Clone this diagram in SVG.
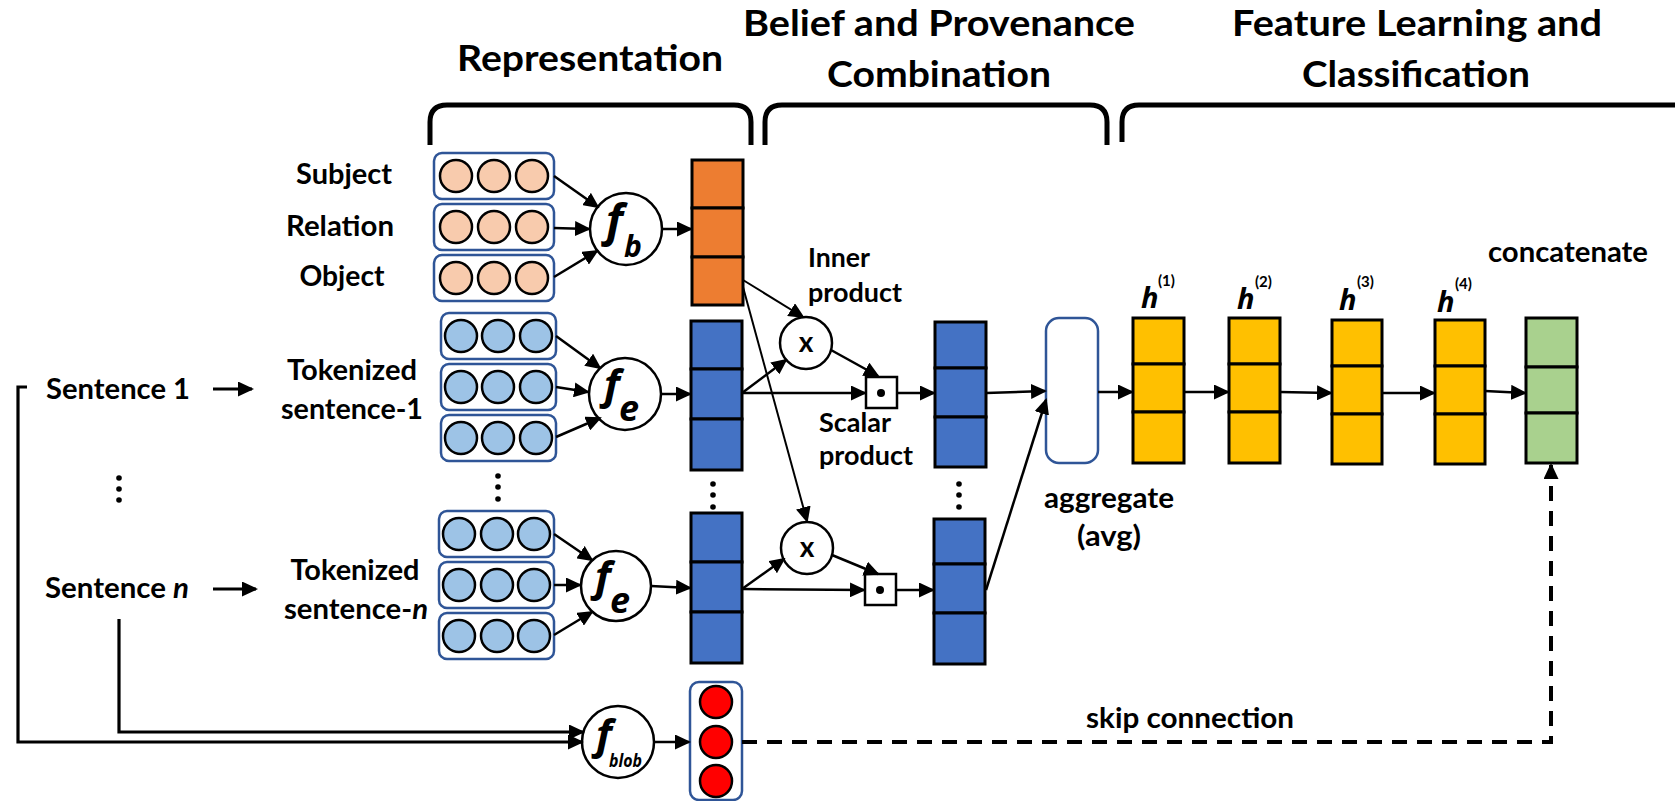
<svg xmlns="http://www.w3.org/2000/svg" width="1675" height="801" viewBox="0 0 1675 801">
  <style>
    text { font-family: Lato, "Noto Sans", "DejaVu Sans", sans-serif; font-weight: bold; fill: #000; }
    .title { font-size: 36px; text-anchor: middle; }
    .lbl { font-size: 29px; }
    .small { font-size: 26px; }
    .mid { text-anchor: middle; }
    .fn { font-family: "Noto Sans", "DejaVu Sans", sans-serif; font-style: italic; font-weight: bold; }
    .brace { fill: none; stroke: #000; stroke-width: 5; }
    .vecbox { fill: #fff; stroke: #2F5597; stroke-width: 2.5; }
    .peach { fill: #F8CBAD; stroke: #000; stroke-width: 2.5; }
    .lblue { fill: #9DC3E6; stroke: #000; stroke-width: 2.5; }
    .red { fill: #FF0000; stroke: #000; stroke-width: 2.5; }
    .op { fill: #fff; stroke: #000; stroke-width: 2.5; }
    .cell { stroke: #000; stroke-width: 3; }
    .orange { fill: #ED7D31; }
    .blue { fill: #4472C4; }
    .yellow { fill: #FFC000; }
    .green { fill: #A9D18E; }
    .agg { fill: #fff; stroke: #2F5597; stroke-width: 2.5; }
    .dot { fill: #000; }
    .edge { fill: none; stroke: #000; stroke-width: 2.5; marker-end: url(#arrow); }
    .thin { stroke-width: 2; }
    .thick { stroke-width: 3.2; }
    .dash { fill: none; stroke: #000; stroke-width: 4; stroke-dasharray: 15 10; marker-end: url(#arrow); }
  </style>
  <defs>
    <marker id="arrow" markerUnits="userSpaceOnUse" markerWidth="16" markerHeight="15" refX="14" refY="7.5" orient="auto">
      <path d="M0,0 L16,7.5 L0,15 Z" fill="#000"/>
    </marker>
  </defs>

  <rect width="1675" height="801" fill="#fff"/>

  <!-- section headings and braces -->
  <g id="headings">
    <text class="title" x="590" y="71" textLength="266" lengthAdjust="spacingAndGlyphs">Representation</text>
    <text class="title" x="939" y="36" textLength="392" lengthAdjust="spacingAndGlyphs">Belief and Provenance</text>
    <text class="title" x="939" y="87" textLength="224" lengthAdjust="spacingAndGlyphs">Combination</text>
    <text class="title" x="1417" y="36" textLength="370" lengthAdjust="spacingAndGlyphs">Feature Learning and</text>
    <text class="title" x="1416" y="87" textLength="228" lengthAdjust="spacingAndGlyphs">Classification</text>
    <path class="brace" d="M430,145 V122 Q430,105 447,105 H734 Q751,105 751,122 V145"/>
    <path class="brace" d="M765,145 V122 Q765,105 782,105 H1090 Q1107,105 1107,122 V145"/>
    <path class="brace" d="M1122,142 V122 Q1122,105 1139,105 H1675"/>
  </g>

  <!-- input labels -->
  <g id="input-labels">
    <text class="lbl mid" x="344" y="184" textLength="96" lengthAdjust="spacingAndGlyphs">Subject</text>
    <text class="lbl mid" x="340" y="236" textLength="108" lengthAdjust="spacingAndGlyphs">Relation</text>
    <text class="lbl mid" x="342" y="286" textLength="85" lengthAdjust="spacingAndGlyphs">Object</text>
    <text class="lbl" x="46" y="399" textLength="144" lengthAdjust="spacingAndGlyphs">Sentence 1</text>
    <text class="lbl" x="45" y="598" textLength="144" lengthAdjust="spacingAndGlyphs">Sentence <tspan font-style="italic">n</tspan></text>
    <text class="lbl mid" x="352" y="380" textLength="130" lengthAdjust="spacingAndGlyphs">Tokenized</text>
    <text class="lbl mid" x="352" y="419" textLength="142" lengthAdjust="spacingAndGlyphs">sentence-1</text>
    <text class="lbl mid" x="355" y="580" textLength="129" lengthAdjust="spacingAndGlyphs">Tokenized</text>
    <text class="lbl mid" x="356" y="619" textLength="144" lengthAdjust="spacingAndGlyphs">sentence-<tspan font-style="italic">n</tspan></text>
    <circle class="dot" cx="119" cy="478" r="2.8"/>
    <circle class="dot" cx="119" cy="489" r="2.8"/>
    <circle class="dot" cx="119" cy="500" r="2.8"/>
  </g>

  <!-- belief triple embeddings -->
  <g id="triple-vectors">
    <rect class="vecbox" x="434" y="153" width="120" height="46" rx="8"/>
    <rect class="vecbox" x="434" y="204" width="120" height="46" rx="8"/>
    <rect class="vecbox" x="434" y="255" width="120" height="46" rx="8"/>
    <circle class="peach" cx="456" cy="176" r="16"/>
    <circle class="peach" cx="494" cy="176" r="16"/>
    <circle class="peach" cx="532" cy="176" r="16"/>
    <circle class="peach" cx="456" cy="227" r="16"/>
    <circle class="peach" cx="494" cy="227" r="16"/>
    <circle class="peach" cx="532" cy="227" r="16"/>
    <circle class="peach" cx="456" cy="278" r="16"/>
    <circle class="peach" cx="494" cy="278" r="16"/>
    <circle class="peach" cx="532" cy="278" r="16"/>
  </g>

  <!-- token embeddings, sentence 1 -->
  <g id="tokens-1">
    <rect class="vecbox" x="441" y="313" width="115" height="46" rx="8"/>
    <rect class="vecbox" x="441" y="364" width="115" height="46" rx="8"/>
    <rect class="vecbox" x="441" y="415" width="115" height="46" rx="8"/>
    <circle class="lblue" cx="461" cy="336" r="16"/>
    <circle class="lblue" cx="498" cy="336" r="16"/>
    <circle class="lblue" cx="536" cy="336" r="16"/>
    <circle class="lblue" cx="461" cy="387" r="16"/>
    <circle class="lblue" cx="498" cy="387" r="16"/>
    <circle class="lblue" cx="536" cy="387" r="16"/>
    <circle class="lblue" cx="461" cy="438" r="16"/>
    <circle class="lblue" cx="498" cy="438" r="16"/>
    <circle class="lblue" cx="536" cy="438" r="16"/>
  </g>

  <g id="tokens-dots">
    <circle class="dot" cx="498" cy="476" r="2.8"/>
    <circle class="dot" cx="498" cy="487" r="2.8"/>
    <circle class="dot" cx="498" cy="499" r="2.8"/>
  </g>

  <!-- token embeddings, sentence n -->
  <g id="tokens-n">
    <rect class="vecbox" x="439" y="511" width="115" height="46" rx="8"/>
    <rect class="vecbox" x="439" y="562" width="115" height="46" rx="8"/>
    <rect class="vecbox" x="439" y="613" width="115" height="46" rx="8"/>
    <circle class="lblue" cx="459" cy="534" r="16"/>
    <circle class="lblue" cx="497" cy="534" r="16"/>
    <circle class="lblue" cx="534" cy="534" r="16"/>
    <circle class="lblue" cx="459" cy="585" r="16"/>
    <circle class="lblue" cx="497" cy="585" r="16"/>
    <circle class="lblue" cx="534" cy="585" r="16"/>
    <circle class="lblue" cx="459" cy="636" r="16"/>
    <circle class="lblue" cx="497" cy="636" r="16"/>
    <circle class="lblue" cx="534" cy="636" r="16"/>
  </g>

  <!-- encoders -->
  <g id="f-b">
    <circle class="op" cx="626" cy="229" r="36"/>
    <text class="fn" x="606" y="236" font-size="45">f</text>
    <text class="fn" x="624" y="257" font-size="30">b</text>
  </g>
  <g id="f-e-1">
    <circle class="op" cx="625" cy="394" r="36"/>
    <text class="fn" x="604" y="399" font-size="42">f</text>
    <text class="fn" x="619" y="421" font-size="36">e</text>
  </g>
  <g id="f-e-n">
    <circle class="op" cx="616" cy="586" r="35"/>
    <text class="fn" x="595" y="591" font-size="42">f</text>
    <text class="fn" x="610" y="613" font-size="36">e</text>
  </g>
  <g id="f-blob">
    <circle class="op" cx="618" cy="742" r="36"/>
    <text class="fn" x="596" y="749" font-size="42">f</text>
    <text class="fn" x="609" y="767" font-size="17" textLength="33" lengthAdjust="spacingAndGlyphs">blob</text>
  </g>

  <!-- belief vector -->
  <g id="belief-vec">
    <rect class="cell orange" x="692" y="160" width="51" height="48"/>
    <rect class="cell orange" x="692" y="208" width="51" height="49"/>
    <rect class="cell orange" x="692" y="257" width="51" height="48"/>
  </g>

  <!-- sentence vectors -->
  <g id="sent-vec-1">
    <rect class="cell blue" x="691" y="321" width="51" height="48"/>
    <rect class="cell blue" x="691" y="369" width="51" height="50"/>
    <rect class="cell blue" x="691" y="419" width="51" height="51"/>
  </g>
  <g id="sent-vec-dots">
    <circle class="dot" cx="713" cy="484" r="2.8"/>
    <circle class="dot" cx="713" cy="495" r="2.8"/>
    <circle class="dot" cx="713" cy="507" r="2.8"/>
  </g>
  <g id="sent-vec-n">
    <rect class="cell blue" x="691" y="513" width="51" height="49"/>
    <rect class="cell blue" x="691" y="562" width="51" height="50"/>
    <rect class="cell blue" x="691" y="612" width="51" height="51"/>
  </g>

  <!-- blob features -->
  <g id="blob-vec">
    <rect class="vecbox" x="690" y="682" width="52" height="118" rx="9"/>
    <circle class="red" cx="716" cy="702" r="16"/>
    <circle class="red" cx="716" cy="742" r="16"/>
    <circle class="red" cx="716" cy="781" r="16"/>
  </g>

  <!-- inner and scalar products -->
  <g id="inner-1">
    <circle class="op" cx="806" cy="343" r="26"/>
    <text class="mid" x="806" y="352" font-size="28">x</text>
  </g>
  <g id="scalar-1">
    <rect class="op" x="866" y="377" width="31" height="31"/>
    <circle class="dot" cx="881" cy="393" r="4"/>
  </g>
  <g id="inner-n">
    <circle class="op" cx="807" cy="548" r="26"/>
    <text class="mid" x="807" y="557" font-size="28">x</text>
  </g>
  <g id="scalar-n">
    <rect class="op" x="865" y="574" width="31" height="31"/>
    <circle class="dot" cx="880" cy="590" r="4"/>
  </g>
  <g id="product-labels">
    <text class="small" x="808" y="267" textLength="62" lengthAdjust="spacingAndGlyphs">Inner</text>
    <text class="small" x="808" y="302" textLength="94" lengthAdjust="spacingAndGlyphs">product</text>
    <text class="small" x="819" y="432" textLength="72" lengthAdjust="spacingAndGlyphs">Scalar</text>
    <text class="small" x="819" y="465" textLength="94" lengthAdjust="spacingAndGlyphs">product</text>
  </g>

  <!-- weighted sentence vectors -->
  <g id="weighted-1">
    <rect class="cell blue" x="935" y="322" width="51" height="46"/>
    <rect class="cell blue" x="935" y="368" width="51" height="49"/>
    <rect class="cell blue" x="935" y="417" width="51" height="50"/>
  </g>
  <g id="weighted-dots">
    <circle class="dot" cx="959" cy="484" r="2.8"/>
    <circle class="dot" cx="959" cy="495" r="2.8"/>
    <circle class="dot" cx="959" cy="507" r="2.8"/>
  </g>
  <g id="weighted-n">
    <rect class="cell blue" x="934" y="519" width="51" height="45"/>
    <rect class="cell blue" x="934" y="564" width="51" height="49"/>
    <rect class="cell blue" x="934" y="613" width="51" height="51"/>
  </g>

  <!-- aggregation -->
  <g id="aggregate">
    <rect class="agg" x="1046" y="318" width="52" height="145" rx="13"/>
    <text class="lbl mid" x="1109" y="508" textLength="130" lengthAdjust="spacingAndGlyphs">aggregate</text>
    <text class="lbl mid" x="1109" y="546" textLength="64" lengthAdjust="spacingAndGlyphs">(avg)</text>
  </g>

  <!-- hidden layers -->
  <g id="h1">
    <rect class="cell yellow" x="1133" y="318" width="51" height="46"/>
    <rect class="cell yellow" x="1133" y="364" width="51" height="48"/>
    <rect class="cell yellow" x="1133" y="412" width="51" height="51"/>
    <text class="fn" x="1141" y="308" font-size="29">h</text>
    <text x="1158" y="286" font-size="15">(1)</text>
  </g>
  <g id="h2">
    <rect class="cell yellow" x="1229" y="318" width="51" height="46"/>
    <rect class="cell yellow" x="1229" y="364" width="51" height="48"/>
    <rect class="cell yellow" x="1229" y="412" width="51" height="51"/>
    <text class="fn" x="1237" y="309" font-size="29">h</text>
    <text x="1255" y="287" font-size="15">(2)</text>
  </g>
  <g id="h3">
    <rect class="cell yellow" x="1332" y="320" width="50" height="46"/>
    <rect class="cell yellow" x="1332" y="366" width="50" height="48"/>
    <rect class="cell yellow" x="1332" y="414" width="50" height="50"/>
    <text class="fn" x="1339" y="310" font-size="29">h</text>
    <text x="1357" y="287" font-size="15">(3)</text>
  </g>
  <g id="h4">
    <rect class="cell yellow" x="1435" y="320" width="50" height="46"/>
    <rect class="cell yellow" x="1435" y="366" width="50" height="48"/>
    <rect class="cell yellow" x="1435" y="414" width="50" height="50"/>
    <text class="fn" x="1437" y="312" font-size="29">h</text>
    <text x="1455" y="289" font-size="15">(4)</text>
  </g>

  <!-- concatenated output -->
  <g id="concat">
    <rect class="cell green" x="1526" y="318" width="51" height="49"/>
    <rect class="cell green" x="1526" y="367" width="51" height="46"/>
    <rect class="cell green" x="1526" y="413" width="51" height="50"/>
    <text class="lbl" x="1488" y="262" textLength="160" lengthAdjust="spacingAndGlyphs">concatenate</text>
  </g>

  <g id="skip-label">
    <text class="lbl" x="1086" y="728" textLength="208" lengthAdjust="spacingAndGlyphs">skip connection</text>
  </g>

  <!-- connectors -->
  <g id="connectors">
    <path class="edge thick" d="M213,389 H252"/>
    <path class="edge thick" d="M213,589 H256"/>
    <path class="edge thick" d="M27,387 H18 V742 H582"/>
    <path class="edge thick" d="M119,619 V732 H583"/>

    <path class="edge" d="M554,176 L598,207"/>
    <path class="edge" d="M554,228 L589,229"/>
    <path class="edge" d="M554,277 L597,251"/>
    <path class="edge" d="M662,229 H691"/>

    <path class="edge" d="M556,336 L600,368"/>
    <path class="edge" d="M556,387 L588,392"/>
    <path class="edge" d="M556,437 L600,418"/>
    <path class="edge" d="M661,394 H690"/>

    <path class="edge" d="M554,534 L592,560"/>
    <path class="edge" d="M554,585 H580"/>
    <path class="edge" d="M554,635 L592,612"/>
    <path class="edge" d="M651,586 L690,588"/>

    <path class="edge" d="M654,742 H689"/>

    <path class="edge thin" d="M743,280 L803,317"/>
    <path class="edge thin" d="M743,287 L807,521"/>
    <path class="edge" d="M742,393 L786,360"/>
    <path class="edge" d="M742,393 H865"/>
    <path class="edge" d="M831,350 L878,376"/>
    <path class="edge" d="M897,393 H934"/>

    <path class="edge" d="M742,589 L784,559"/>
    <path class="edge" d="M742,589 L864,590"/>
    <path class="edge" d="M832,555 L878,574"/>
    <path class="edge" d="M896,590 H933"/>

    <path class="edge" d="M986,393 L1045,391"/>
    <path class="edge" d="M986,590 L1046,400"/>

    <path class="edge" d="M1098,392 H1132"/>
    <path class="edge" d="M1184,392 H1228"/>
    <path class="edge" d="M1280,392 L1331,393"/>
    <path class="edge" d="M1382,393 H1434"/>
    <path class="edge" d="M1485,391 L1525,393"/>

    <path class="dash" d="M742,742 H1551 V465"/>
  </g>
</svg>
